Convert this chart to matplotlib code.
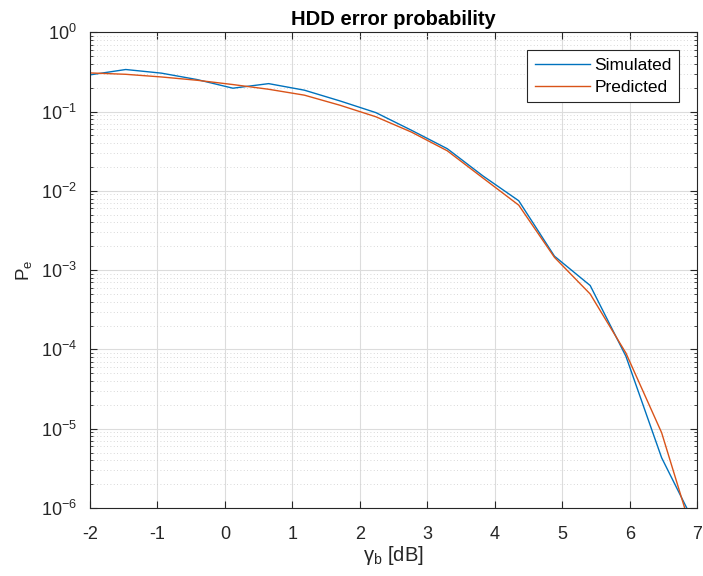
import numpy as np
import matplotlib
matplotlib.use('Agg')
import matplotlib.pyplot as plt
from matplotlib.ticker import LogLocator, NullFormatter, MultipleLocator

# gamma_b [dB], 18 points from -2 to 7
gamma_b = np.linspace( -2, 7, 18 )

simulated = [ 0.29, 0.339, 0.305, 0.253, 0.197, 0.225, 0.186, 0.136, 0.097, 0.058,
              0.034, 0.0154, 0.0075, 0.0015, 6.4e-4, 8.2e-5, 4.3e-6, 5.4e-7 ]
predicted = [ 0.307, 0.295, 0.273, 0.248, 0.219, 0.191, 0.161, 0.12, 0.086, 0.055,
              0.032, 0.0145, 0.0066, 0.00145, 5.0e-4, 9.0e-5, 8.9e-6, 3.0e-7 ]

plt.rcParams['font.family'] = [ 'Liberation Sans', 'DejaVu Sans' ]
plt.rcParams['mathtext.default'] = 'regular'
plt.rcParams['axes.unicode_minus'] = False

dark = '#262626'
fig = plt.figure( figsize=( 7.03, 5.76 ), dpi=100 )
ax = fig.add_axes( [ 0.128, 0.118, 0.864, 0.826 ] )

ax.semilogy( gamma_b, simulated, color='#0072BD', lw=1.0, label='Simulated' )
ax.semilogy( gamma_b, predicted, color='#D95319', lw=1.0, label='Predicted' )

ax.set_xlim( -2, 7 )
ax.set_ylim( 1e-6, 1 )
ax.xaxis.set_major_locator( MultipleLocator( 1 ) )
ax.yaxis.set_major_locator( LogLocator( base=10, numticks=10 ) )
ax.yaxis.set_minor_locator( LogLocator( base=10, subs=np.arange( 2, 10 ), numticks=20 ) )
ax.yaxis.set_minor_formatter( NullFormatter() )

ax.grid( which='major', color='#dcdcdc', lw=0.8, ls='-' )
ax.grid( which='minor', axis='y', color='#cccccc', lw=0.6, ls=( 0, ( 1, 3 ) ) )
ax.set_axisbelow( True )

ax.tick_params( which='both', direction='in', top=True, right=True, colors=dark, labelsize=13 )
ax.tick_params( which='major', length=5 )
ax.tick_params( which='minor', length=2.5 )
ax.tick_params( axis='x', pad=13 )
ax.tick_params( axis='y', pad=9.5 )
for s in ax.spines.values():
    s.set_color( dark )
    s.set_linewidth( 0.8 )

ax.set_title( 'HDD error probability', fontsize=14.5, fontweight='bold', color='black', pad=5 )
ax.set_xlabel( 'γ$_b$ [dB]', fontsize=14.5, color=dark, labelpad=1 )
ax.set_ylabel( 'P$_e$', fontsize=13.5, color=dark, labelpad=5 )

leg = ax.legend( loc='upper right', fontsize=12.5, fancybox=False, edgecolor=dark,
                 framealpha=1, borderaxespad=1.05, handlelength=3.2, handletextpad=0.25,
                 borderpad=0.42, labelspacing=0.38 )
leg.get_frame().set_linewidth( 0.8 )

plt.savefig( 'out.png', dpi=100 )
